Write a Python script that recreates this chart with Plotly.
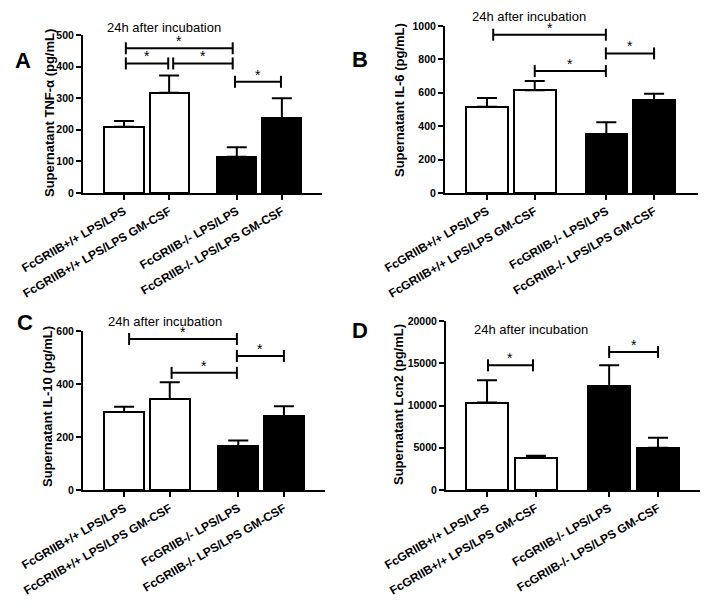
import plotly.graph_objects as go

W, H = 714, 615
FONT = "Liberation Sans"

# ---------------- data ----------------
categories = ["FcGRIIB+/+ LPS/LPS", "FcGRIIB+/+ LPS/LPS GM-CSF",
              "FcGRIIB-/- LPS/LPS", "FcGRIIB-/- LPS/LPS GM-CSF"]
cat_pos = [0, 1, 2.5, 3.5]
bar_colors = ["white", "white", "black", "black"]

tnf_mean = [210, 317, 115, 237]
tnf_err = [18, 55, 30, 63]

il6_mean = [517, 615, 351, 557]
il6_err = [52, 56, 72, 38]

il10_mean = [294, 343, 166, 279]
il10_err = [20, 64, 21, 37]

lcn2_mean = [10350, 3830, 12300, 5010]
lcn2_err = [2630, 230, 2450, 1180]

y_titles = ["Supernatant TNF-α (pg/mL)", "Supernatant IL-6 (pg/mL)",
            "Supernatant IL-10 (pg/mL)", "Supernatant Lcn2 (pg/mL)"]
panel_letters = ["A", "B", "C", "D"]
subtitle = "24h after incubation"

# significance brackets: (x start, x end, height)
tnf_sig = [(0.04, 2.41, 458), (0.04, 0.98, 410), (1.09, 2.41, 410), (2.46, 3.48, 352)]
il6_sig = [(0.13, 2.49, 948), (2.49, 3.5, 836), (1.0, 2.49, 730)]
il10_sig = [(0.11, 2.47, 570), (2.47, 3.5, 506), (1.04, 2.47, 442)]
lcn2_sig = [(0.02, 0.94, 14753), (2.5, 3.5, 16331)]

# ---------------- layout geometry (pixels) ----------------
panels = [
    dict(mean=tnf_mean, err=tnf_err, sig=tnf_sig, yr=[0, 500], dt=100,
         xpx=(83, 322), ypx=(193, 35), xr=[-0.91, 4.39],
         letter=(22.5, 61), sub=(163.5, 27), ytitle=(50, 113)),
    dict(mean=il6_mean, err=il6_err, sig=il6_sig, yr=[0, 1000], dt=200,
         xpx=(445, 698), ypx=(193, 26), xr=[-0.88, 4.42],
         letter=(359.5, 60), sub=(529, 17), ytitle=(399, 100)),
    dict(mean=il10_mean, err=il10_err, sig=il10_sig, yr=[0, 600], dt=200,
         xpx=(83, 325), ypx=(490, 331), xr=[-0.9, 4.4],
         letter=(25, 322), sub=(164.5, 321), ytitle=(47, 407)),
    dict(mean=lcn2_mean, err=lcn2_err, sig=lcn2_sig, yr=[0, 20000], dt=5000,
         xpx=(446, 700), ypx=(490, 321), xr=[-0.84, 4.36],
         letter=(360, 330), sub=(530.5, 329), ytitle=(398, 405)),
]


def px(x, y):
    return x / W, 1 - y / H


fig = go.Figure()
shapes = []
annotations = []

for i, p in enumerate(panels):
    n = "" if i == 0 else str(i + 1)
    xa, ya = "x" + n, "y" + n
    fig.add_trace(go.Bar(
        x=cat_pos, y=p["mean"], width=0.87,
        marker=dict(color=bar_colors, line=dict(color="black", width=2)),
        error_y=dict(type="data", array=p["err"], arrayminus=[0] * 4,
                     symmetric=False, color="black", thickness=2, width=10),
        xaxis=xa, yaxis=ya, showlegend=False,
    ))
    axis_x = dict(
        domain=[p["xpx"][0] / W, p["xpx"][1] / W], range=p["xr"],
        anchor=ya, showline=True, linecolor="black", linewidth=2,
        tickmode="array", tickvals=cat_pos, ticktext=categories,
        tickangle=-30, ticks="outside", ticklen=5, tickwidth=2, tickcolor="black",
        tickfont=dict(family=FONT, size=12, color="black", weight="bold"),
        showgrid=False, zeroline=False, fixedrange=True, automargin=False,
    )
    axis_y = dict(
        domain=[1 - p["ypx"][0] / H, 1 - p["ypx"][1] / H], range=p["yr"],
        anchor=xa, showline=True, linecolor="black", linewidth=2,
        dtick=p["dt"], tick0=0, tickformat="d",
        ticks="outside", ticklen=5, tickwidth=2, tickcolor="black",
        tickfont=dict(family=FONT, size=10.5, color="black", weight="bold"),
        showgrid=False, zeroline=False, fixedrange=True, automargin=False,
    )
    fig.update_layout({"xaxis" + n: axis_x, "yaxis" + n: axis_y})

    for (x0, x1, yv) in p["sig"]:
        shapes.append(dict(type="line", xref=xa, yref=ya, x0=x0, x1=x1, y0=yv, y1=yv,
                           line=dict(color="black", width=2)))
        for xe in (x0, x1):
            shapes.append(dict(type="line", xref=xa, yref=ya, ysizemode="pixel",
                               yanchor=yv, x0=xe, x1=xe, y0=-6, y1=6,
                               line=dict(color="black", width=2)))
        annotations.append(dict(xref=xa, yref=ya, x=(x0 + x1) / 2, y=yv,
                                text="*", showarrow=False, yanchor="bottom",
                                yshift=-3,
                                font=dict(family=FONT, size=14, color="black")))

    lx, ly = px(*p["letter"])
    annotations.append(dict(xref="paper", yref="paper", x=lx, y=ly, text=panel_letters[i],
                            showarrow=False, xanchor="center", yanchor="middle",
                            font=dict(family=FONT, size=22, color="black", weight="bold")))
    sx, sy = px(*p["sub"])
    annotations.append(dict(xref="paper", yref="paper", x=sx, y=sy, text=subtitle,
                            showarrow=False, xanchor="center", yanchor="middle",
                            font=dict(family=FONT, size=13, color="black")))
    tx, ty = px(*p["ytitle"])
    annotations.append(dict(xref="paper", yref="paper", x=tx, y=ty, text=y_titles[i],
                            showarrow=False, xanchor="center", yanchor="middle",
                            textangle=-90,
                            font=dict(family=FONT, size=13, color="black", weight="bold")))

fig.update_layout(
    template="none",
    width=W, height=H, margin=dict(l=0, r=0, t=0, b=0, autoexpand=False),
    paper_bgcolor="white", plot_bgcolor="white",
    shapes=shapes, annotations=annotations, bargap=0,
    font=dict(family=FONT, color="black"),
)

fig.write_html("out.html", config={"displayModeBar": False},
               post_script="document.body.style.margin='0px';document.body.style.overflow='hidden';")
